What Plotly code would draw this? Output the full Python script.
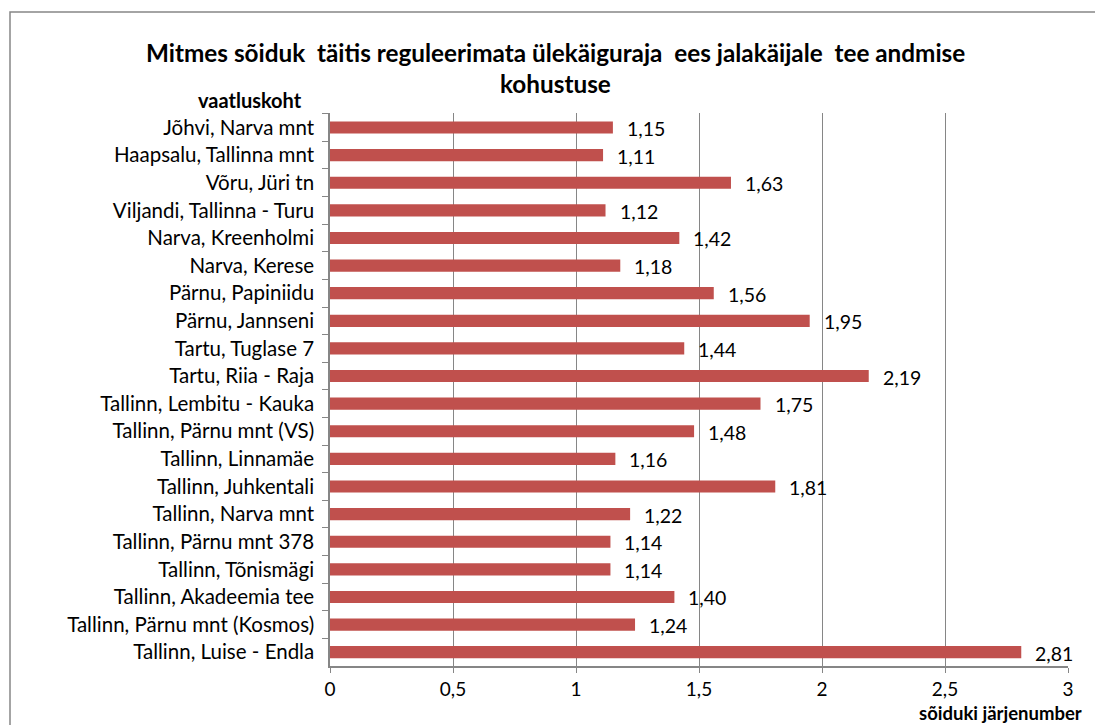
import plotly.graph_objects as go

categories = [
    "Jõhvi, Narva mnt", "Haapsalu, Tallinna mnt", "Võru, Jüri tn",
    "Viljandi, Tallinna - Turu", "Narva, Kreenholmi", "Narva, Kerese",
    "Pärnu, Papiniidu", "Pärnu, Jannseni", "Tartu, Tuglase 7",
    "Tartu, Riia - Raja", "Tallinn, Lembitu - Kauka", "Tallinn, Pärnu mnt (VS)",
    "Tallinn, Linnamäe", "Tallinn, Juhkentali", "Tallinn, Narva mnt",
    "Tallinn, Pärnu mnt 378", "Tallinn, Tõnismägi", "Tallinn, Akadeemia tee",
    "Tallinn, Pärnu mnt (Kosmos)", "Tallinn, Luise - Endla",
]
values = [1.15, 1.11, 1.63, 1.12, 1.42, 1.18, 1.56, 1.95, 1.44, 2.19,
          1.75, 1.48, 1.16, 1.81, 1.22, 1.14, 1.14, 1.40, 1.24, 2.81]
x_ticks = [0, 0.5, 1, 1.5, 2, 2.5, 3]
x_tick_labels = ["0", "0,5", "1", "1,5", "2", "2,5", "3"]

title_line1 = "Mitmes sõiduk&nbsp; täitis reguleerimata ülekäiguraja&nbsp; ees jalakäijale&nbsp; tee andmise"
title_line2 = "kohustuse"
y_title = "vaatluskoht"
x_title = "sõiduki järjenumber"

FONT = "Lato"
TXT = "#000000"
GRID = "#868686"
BAR = "#C0504D"

W, H = 1095, 725
L, R, T, B = 330, 27, 113, 59
pw, ph = W - L - R, H - T - B

def px_x(p):
    return (p - L) / pw

def px_y(p):
    return 1 - (p - T) / ph

fig = go.Figure()
fig.add_trace(go.Bar(
    x=values, y=categories, orientation="h",
    marker=dict(color=BAR, line=dict(width=0)),
    hoverinfo="x+y",
))

annotations = []
for c, v in zip(categories, values):
    annotations.append(dict(
        x=v, y=c, xref="x", yref="y", text=f"{v:.2f}".replace(".", ","),
        showarrow=False, xanchor="left", yanchor="middle", xshift=12, yshift=-1,
        font=dict(family=FONT, size=19.5, color=TXT),
    ))

annotations += [
    dict(x=px_x(555), y=px_y(53), xref="paper", yref="paper", text=f"<b>{title_line1}</b>",
         showarrow=False, xanchor="center", yanchor="middle",
         font=dict(family=FONT, size=24.3, color=TXT)),
    dict(x=px_x(555), y=px_y(84), xref="paper", yref="paper", text=f"<b>{title_line2}</b>",
         showarrow=False, xanchor="center", yanchor="middle",
         font=dict(family=FONT, size=24.3, color=TXT)),
    dict(x=px_x(304), y=px_y(100), xref="paper", yref="paper", text=f"<b>{y_title}</b>",
         showarrow=False, xanchor="right", yanchor="middle",
         font=dict(family=FONT, size=20, color=TXT)),
    dict(x=px_x(1084), y=px_y(713), xref="paper", yref="paper", text=f"<b>{x_title}</b>",
         showarrow=False, xanchor="right", yanchor="middle",
         font=dict(family=FONT, size=18.5, color=TXT)),
]

fig.update_layout(
    width=W, height=H,
    margin=dict(l=L, r=R, t=T, b=B, autoexpand=False),
    paper_bgcolor="white", plot_bgcolor="white",
    showlegend=False, bargap=0.56,
    annotations=annotations,
    shapes=[dict(type="rect", xref="paper", yref="paper",
                 x0=px_x(10), x1=px_x(1110), y0=px_y(740), y1=px_y(12),
                 line=dict(color=GRID, width=1.5), layer="below")],
)
fig.update_xaxes(
    range=[0, 3], tickvals=x_ticks, ticktext=x_tick_labels,
    showgrid=True, gridcolor=GRID, gridwidth=1.3,
    showline=True, linecolor=GRID, linewidth=1.5,
    ticks="outside", ticklen=5, tickcolor=GRID, tickwidth=1.3,
    tickfont=dict(family=FONT, size=19, color=TXT), zeroline=False,
    ticklabelstandoff=0,
)
fig.update_yaxes(
    categoryorder="array", categoryarray=categories, autorange="reversed",
    showline=True, linecolor=GRID, linewidth=1.5,
    ticks="outside", ticklen=6, tickcolor=GRID, tickwidth=1.3, tickson="boundaries",
    tickfont=dict(family=FONT, size=20.5, color=TXT), showgrid=False,
    ticklabelstandoff=10,
)

fig.write_html("out.html", config={"displayModeBar": False},
               post_script="document.body.style.margin='0';")
